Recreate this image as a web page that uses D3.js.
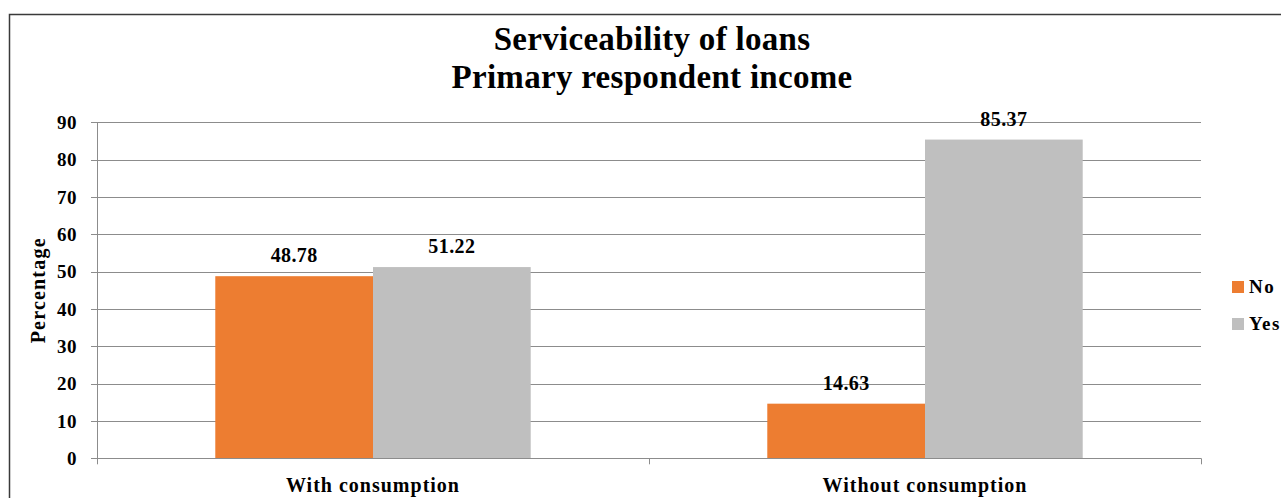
<!DOCTYPE html>
<html>
<head>
<meta charset="utf-8">
<script src="https://cdn.jsdelivr.net/npm/d3@7"></script>
<style>
  html, body { margin: 0; padding: 0; background: #fff; }
  svg { display: block; }
  text { font-family: "Liberation Serif", "Times New Roman", serif; font-weight: bold; fill: #000; }
</style>
</head>
<body>
<svg id="chart" width="1281" height="498"></svg>
<script>
// Chart data
const categories = ["With consumption", "Without consumption"];
const seriesNames = ["No", "Yes"];
const noValues = [48.78, 14.63];
const yesValues = [51.22, 85.37];
const yTicks = [0, 10, 20, 30, 40, 50, 60, 70, 80, 90];
const titleLines = ["Serviceability of loans", "Primary respondent income"];
const yAxisTitle = "Percentage";
const colors = { No: "#ED7D31", Yes: "#BFBFBF" };

const svg = d3.select("#chart");
const W = 1281, H = 498;
const plot = { left: 97, right: 1201, top: 122.3, bottom: 458.3 };

// Outer chart frame (runs past the viewport on the right and bottom)
svg.append("rect")
  .attr("x", 9.5).attr("y", 14.5)
  .attr("width", W + 20).attr("height", H + 20)
  .attr("fill", "#fff").attr("stroke", "#3a3a3a").attr("stroke-width", 1.5);

const x0 = d3.scaleBand().domain(categories).range([plot.left, plot.right]);
const y = d3.scaleLinear().domain([0, 90]).range([plot.bottom, plot.top]);

// Each category: two touching bars, with a 150% gap width shared between groups
const groupW = x0.bandwidth();
const barW = groupW / 3.5;
const x1 = d3.scaleBand().domain(seriesNames).range([groupW / 2 - barW, groupW / 2 + barW]);
const barX = (cat, s) => x0(cat) + x1(s);

// Gridlines (with small tick stubs left of the axis)
svg.append("g")
  .selectAll("line").data(yTicks).join("line")
  .attr("x1", plot.left - 6).attr("x2", plot.right)
  .attr("y1", d => Math.round(y(d)) + 0.5).attr("y2", d => Math.round(y(d)) + 0.5)
  .attr("stroke", "#8c8c8c").attr("stroke-width", 1);

// Y tick labels
svg.append("g")
  .selectAll("text").data(yTicks).join("text")
  .attr("x", 77).attr("y", d => y(d))
  .attr("dy", "0.35em")
  .attr("text-anchor", "end")
  .attr("font-size", 19)
  .attr("letter-spacing", 0.5)
  .text(d => d);

// Y axis line
svg.append("line")
  .attr("x1", plot.left + 0.5).attr("x2", plot.left + 0.5)
  .attr("y1", plot.top).attr("y2", plot.bottom + 6)
  .attr("stroke", "#8c8c8c");

// Bars
const rows = [];
categories.forEach((c, i) => {
  rows.push({ cat: c, s: "No", v: noValues[i] });
  rows.push({ cat: c, s: "Yes", v: yesValues[i] });
});

svg.append("g")
  .selectAll("rect").data(rows).join("rect")
  .attr("x", d => barX(d.cat, d.s))
  .attr("y", d => y(d.v))
  .attr("width", x1.bandwidth())
  .attr("height", d => y(0) - y(d.v))
  .attr("fill", d => colors[d.s]);

// Value labels
svg.append("g")
  .selectAll("text").data(rows).join("text")
  .attr("x", d => barX(d.cat, d.s) + x1.bandwidth() / 2)
  .attr("y", d => y(d.v) - 14)
  .attr("text-anchor", "middle")
  .attr("font-size", 20)
  .attr("letter-spacing", 0.4)
  .text(d => d.v.toFixed(2));

// X axis line and category tick marks
svg.append("line")
  .attr("x1", plot.left).attr("x2", plot.right)
  .attr("y1", Math.round(plot.bottom) + 0.5).attr("y2", Math.round(plot.bottom) + 0.5)
  .attr("stroke", "#8c8c8c");
const tickXs = [x0(categories[1]), plot.right];
svg.append("g")
  .selectAll("line").data(tickXs).join("line")
  .attr("x1", d => Math.round(d) + 0.5).attr("x2", d => Math.round(d) + 0.5)
  .attr("y1", plot.bottom).attr("y2", plot.bottom + 6)
  .attr("stroke", "#8c8c8c");

// Category labels
svg.append("g")
  .selectAll("text").data(categories).join("text")
  .attr("x", d => x0(d) + groupW / 2)
  .attr("y", 492)
  .attr("text-anchor", "middle")
  .attr("font-size", 20)
  .attr("letter-spacing", 1.0)
  .text(d => d);

// Y axis title
svg.append("text")
  .attr("transform", `translate(45, ${(plot.top + plot.bottom) / 2}) rotate(-90)`)
  .attr("text-anchor", "middle")
  .attr("font-size", 20)
  .attr("letter-spacing", 1.2)
  .text(yAxisTitle);

// Chart title
svg.append("g")
  .selectAll("text").data(titleLines).join("text")
  .attr("x", 652)
  .attr("y", (d, i) => 50 + i * 38)
  .attr("text-anchor", "middle")
  .attr("font-size", 33)
  .attr("letter-spacing", 0.3)
  .text(d => d);

// Legend
const legend = svg.append("g")
  .selectAll("g").data(seriesNames).join("g")
  .attr("transform", (d, i) => `translate(1232, ${281 + i * 37})`);
legend.append("rect")
  .attr("width", 12).attr("height", 12)
  .attr("fill", d => colors[d]);
legend.append("text")
  .attr("x", 17).attr("y", 12)
  .attr("font-size", 19)
  .attr("letter-spacing", 1.5)
  .text(d => d);
</script>
</body>
</html>
